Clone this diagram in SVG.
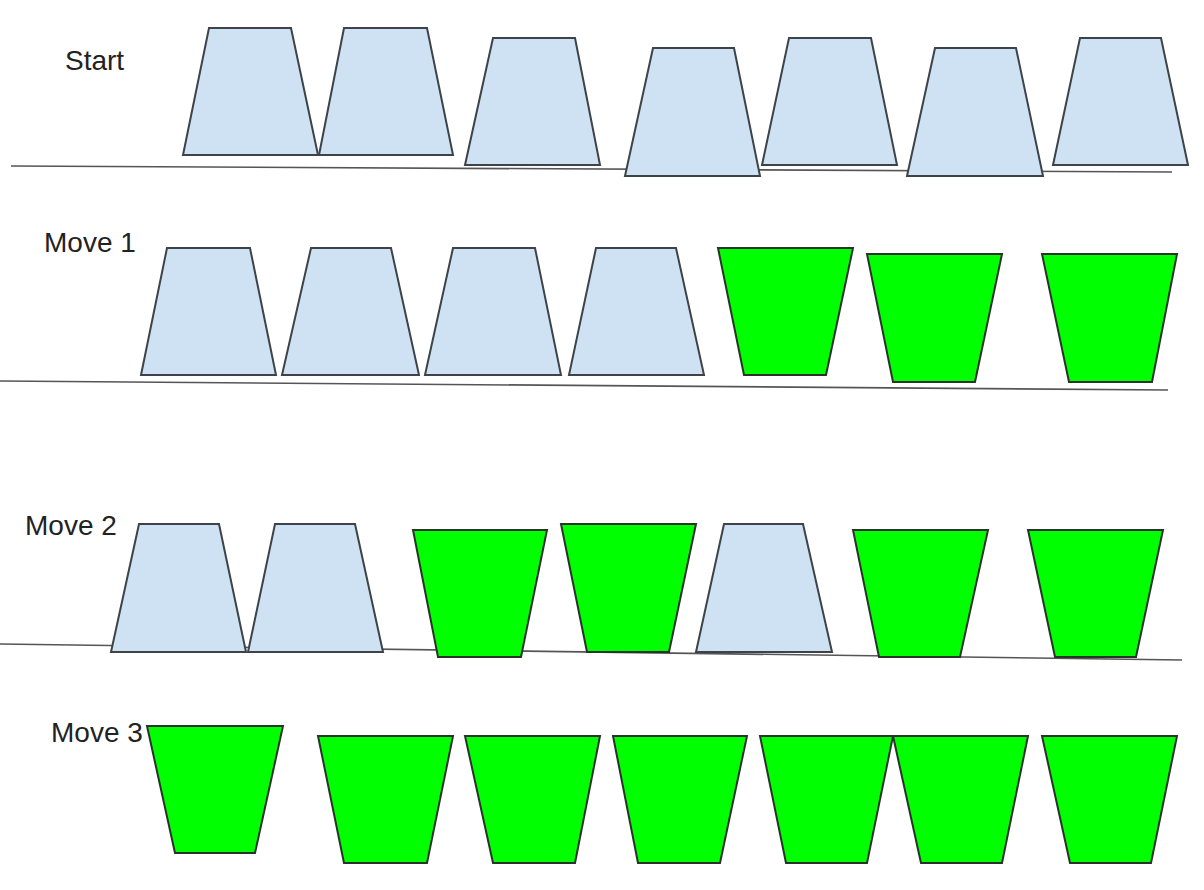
<svg xmlns="http://www.w3.org/2000/svg" width="1204" height="890" viewBox="0 0 1204 890">
<style>
.blue{fill:#cfe2f3;stroke:#3d4348;stroke-width:2;stroke-linejoin:miter}
.green{fill:#00ff00;stroke:#2a332a;stroke-width:2;stroke-linejoin:miter}
.ground{stroke:#555;stroke-width:1.6;fill:none}
.lbl{font-family:"Liberation Sans",Arial,sans-serif;font-size:28px;fill:#222}
</style>
<rect width="1204" height="890" fill="#fff"/>
<g id="ground-lines">
<line class="ground" x1="11" y1="166" x2="1172" y2="172"/>
<line class="ground" x1="0" y1="381" x2="1168" y2="390"/>
<line class="ground" x1="0" y1="644" x2="1182" y2="660"/>
</g>
<g id="labels">
<text class="lbl" x="65" y="70">Start</text>
<text class="lbl" x="44" y="252">Move 1</text>
<text class="lbl" x="25" y="535">Move 2</text>
<text class="lbl" x="51" y="742">Move 3</text>
</g>
<g id="row-start">
<polygon id="s1" class="blue" points="209,28 291,28 318,155 183,155"/>
<polygon id="s2" class="blue" points="344,28 427,28 453,155 319,155"/>
<polygon id="s3" class="blue" points="493,38 575,38 600,165 465,165"/>
<polygon id="s4" class="blue" points="653,48 734,48 760,176 625,176"/>
<polygon id="s5" class="blue" points="789,38 871,38 897,165 762,165"/>
<polygon id="s6" class="blue" points="935,48 1016,48 1043,176 907,176"/>
<polygon id="s7" class="blue" points="1080,38 1161,38 1188,165 1053,165"/>
</g>
<g id="row-move1">
<polygon id="m1a" class="blue" points="167,248 250,248 276,375 141,375"/>
<polygon id="m1b" class="blue" points="311,248 391,248 419,375 282,375"/>
<polygon id="m1c" class="blue" points="453,248 535,248 561,375 425,375"/>
<polygon id="m1d" class="blue" points="596,248 676,248 704,375 569,375"/>
<polygon id="m1e" class="green" points="718,248 853,248 826,375 744,375"/>
<polygon id="m1f" class="green" points="867,254 1002,254 975,382 893,382"/>
<polygon id="m1g" class="green" points="1042,254 1177,254 1152,382 1069,382"/>
</g>
<g id="row-move2">
<polygon id="m2a" class="blue" points="139,524 219,524 246,652 111,652"/>
<polygon id="m2b" class="blue" points="275,524 355,524 383,652 248,652"/>
<polygon id="m2c" class="green" points="413,530 547,530 521,657 438,657"/>
<polygon id="m2d" class="green" points="561,524 696,524 669,652 587,652"/>
<polygon id="m2e" class="blue" points="724,524 803,524 832,652 696,652"/>
<polygon id="m2f" class="green" points="853,530 988,530 960,657 879,657"/>
<polygon id="m2g" class="green" points="1028,530 1163,530 1136,657 1055,657"/>
</g>
<g id="row-move3">
<polygon id="m3a" class="green" points="147,726 283,726 255,853 175,853"/>
<polygon id="m3b" class="green" points="318,736 453,736 427,863 344,863"/>
<polygon id="m3c" class="green" points="465,736 600,736 575,863 493,863"/>
<polygon id="m3d" class="green" points="613,736 747,736 720,863 638,863"/>
<polygon id="m3e" class="green" points="760,736 893,736 867,863 786,863"/>
<polygon id="m3f" class="green" points="893,736 1028,736 1002,863 921,863"/>
<polygon id="m3g" class="green" points="1042,736 1177,736 1151,863 1070,863"/>
</g>
</svg>
